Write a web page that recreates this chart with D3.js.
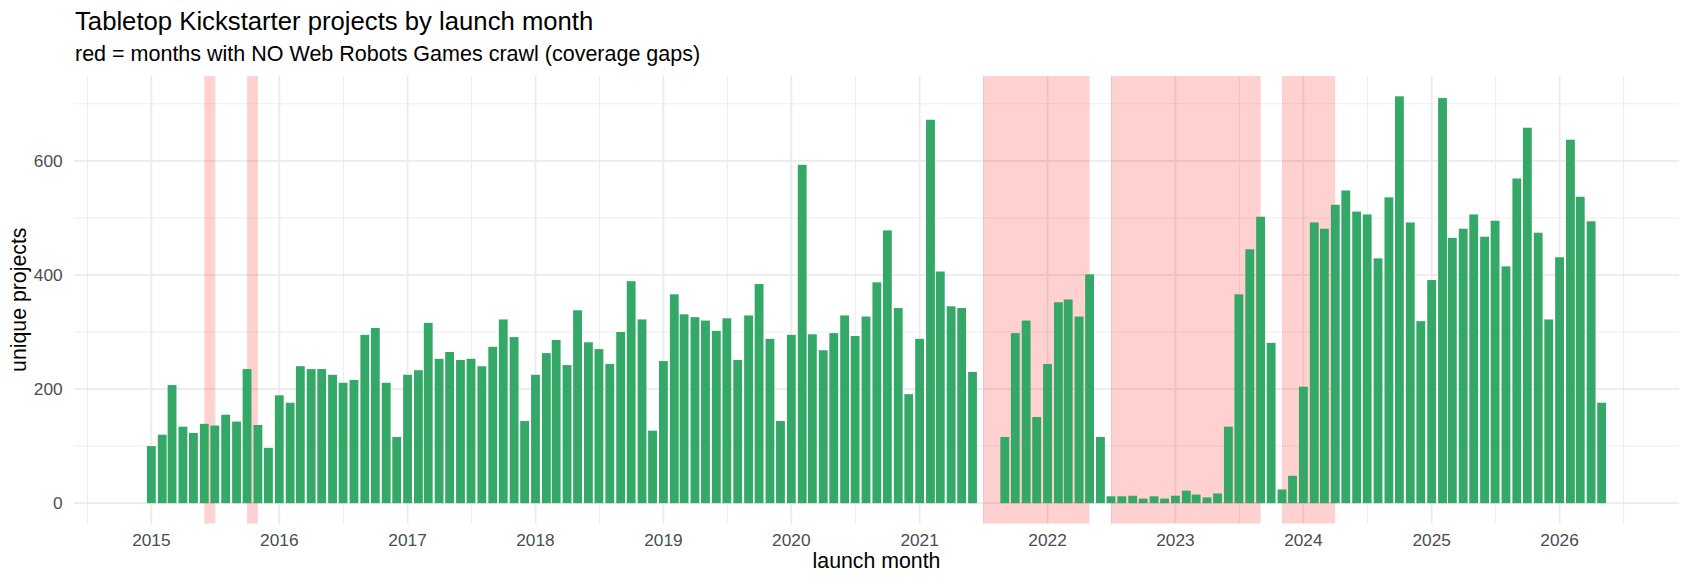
<!DOCTYPE html>
<html>
<head>
<meta charset="utf-8">
<title>Tabletop Kickstarter projects by launch month</title>
<script src="https://d3js.org/d3.v7.min.js"></script>
<style>
body { margin: 0; background: #fff; }
svg { display: block; font-family: 'Liberation Sans', Arial, Helvetica, sans-serif; }
</style>
</head>
<body>
<div id="chart"></div>
<script>
// monthly counts of unique projects, Jan..Dec (null = no projects recorded)
var firstYear = 2015;
var counts2015 = [100, 120, 207, 134, 123, 139, 136, 155, 143, 235, 137, 97];
var counts2016 = [189, 176, 240, 235, 235, 225, 211, 216, 295, 307, 211, 116];
var counts2017 = [225, 233, 316, 253, 265, 251, 253, 240, 274, 322, 291, 144];
var counts2018 = [225, 263, 286, 242, 338, 282, 270, 244, 300, 389, 322, 127];
var counts2019 = [249, 366, 331, 326, 320, 302, 324, 251, 329, 384, 288, 144];
var counts2020 = [295, 593, 296, 268, 298, 329, 293, 327, 387, 478, 342, 191];
var counts2021 = [288, 672, 406, 345, 342, 230, null, null, 116, 298, 320, 151];
var counts2022 = [244, 352, 357, 327, 401, 116, 12, 12, 13, 8, 12, 8];
var counts2023 = [13, 22, 15, 10, 17, 134, 366, 445, 502, 281, 24, 48];
var counts2024 = [204, 492, 481, 523, 548, 511, 506, 429, 536, 713, 492, 319];
var counts2025 = [391, 710, 465, 481, 506, 467, 495, 415, 569, 658, 474, 322];
var counts2026 = [431, 637, 537, 494, 176];

// months with no crawl (first and last month of each gap)
var gapFrom = ["2015-06", "2015-10", "2021-07", "2022-07", "2023-11"];
var gapTo   = ["2015-06", "2015-10", "2022-04", "2023-08", "2024-03"];

var titleText = "Tabletop Kickstarter projects by launch month";
var subtitleText = "red = months with NO Web Robots Games crawl (coverage gaps)";
var xLabel = "launch month";
var yLabel = "unique projects";

var width = 1690, height = 585;
var panelL = 74, panelR = 1679, panelT = 76, panelB = 523.5;

var allYears = [counts2015, counts2016, counts2017, counts2018, counts2019, counts2020,
                counts2021, counts2022, counts2023, counts2024, counts2025, counts2026];
var data = [];
allYears.forEach(function(arr, i) {
  arr.forEach(function(v, m) {
    if (v !== null) data.push({ date: new Date(Date.UTC(firstYear + i, m, 1)), n: v });
  });
});

function parseMonth(s) {
  var p = s.split("-");
  return new Date(Date.UTC(+p[0], +p[1] - 1, 1));
}
var gaps = gapFrom.map(function(s, i) {
  return { x0: parseMonth(s), x1: d3.utcMonth.offset(parseMonth(gapTo[i]), 1) };
});

// bar width like geom_col: 0.9 of the smallest spacing (28 days)
var day = 864e5;
var halfBar = 0.45 * 28 * day;
var lo = +d3.min(data, function(d) { return d.date; }) - halfBar;
var hi = +d3.max(data, function(d) { return d.date; }) + halfBar;
var pad = (hi - lo) * 0.05;
var x = d3.scaleUtc().domain([new Date(lo - pad), new Date(hi + pad)]).range([panelL, panelR]);

var yMax = d3.max(data, function(d) { return d.n; });
var y = d3.scaleLinear().domain([-0.05 * yMax, 1.05 * yMax]).range([panelB, panelT]);

var svg = d3.select("#chart").append("svg")
  .attr("width", width)
  .attr("height", height);

// grid
var yMajor = [0, 200, 400, 600];
var yMinor = [100, 300, 500, 700];
var years = d3.utcYear.range(d3.utcYear.ceil(x.domain()[0]), x.domain()[1]);
var xMinor = [];
years.forEach(function(d) {
  xMinor.push(new Date((+d + +d3.utcYear.offset(d, -1)) / 2));
});
var lastYear = years[years.length - 1];
xMinor.push(new Date((+lastYear + +d3.utcYear.offset(lastYear, 1)) / 2));
xMinor = xMinor.filter(function(d) { return d >= x.domain()[0] && d <= x.domain()[1]; });

var grid = svg.append("g");
grid.selectAll(".ymin").data(yMinor).enter().append("line")
  .attr("x1", panelL).attr("x2", panelR)
  .attr("y1", function(d) { return y(d); }).attr("y2", function(d) { return y(d); })
  .attr("stroke", "#ebebeb").attr("stroke-width", 0.9);
grid.selectAll(".xmin").data(xMinor).enter().append("line")
  .attr("y1", panelT).attr("y2", panelB)
  .attr("x1", function(d) { return x(d); }).attr("x2", function(d) { return x(d); })
  .attr("stroke", "#ebebeb").attr("stroke-width", 0.9);
grid.selectAll(".ymaj").data(yMajor).enter().append("line")
  .attr("x1", panelL).attr("x2", panelR)
  .attr("y1", function(d) { return y(d); }).attr("y2", function(d) { return y(d); })
  .attr("stroke", "#ebebeb").attr("stroke-width", 1.8);
grid.selectAll(".xmaj").data(years).enter().append("line")
  .attr("y1", panelT).attr("y2", panelB)
  .attr("x1", function(d) { return x(d); }).attr("x2", function(d) { return x(d); })
  .attr("stroke", "#ebebeb").attr("stroke-width", 1.8);

// coverage gaps
svg.append("g").selectAll("rect").data(gaps).enter().append("rect")
  .attr("x", function(d) { return x(d.x0); })
  .attr("width", function(d) { return x(d.x1) - x(d.x0); })
  .attr("y", panelT)
  .attr("height", panelB - panelT)
  .attr("fill", "red")
  .attr("fill-opacity", 0.18);

// bars
svg.append("g").selectAll("rect").data(data).enter().append("rect")
  .attr("x", function(d) { return x(new Date(+d.date - halfBar)); })
  .attr("width", function(d) { return x(new Date(+d.date + halfBar)) - x(new Date(+d.date - halfBar)); })
  .attr("y", function(d) { return y(d.n); })
  .attr("height", function(d) { return y(0) - y(d.n); })
  .attr("fill", "#33a867");

// axis labels
svg.append("g").selectAll("text").data(yMajor).enter().append("text")
  .attr("x", 62.7)
  .attr("y", function(d) { return y(d) + 6; })
  .attr("text-anchor", "end")
  .attr("font-size", 17.3)
  .attr("fill", "#4d4d4d")
  .text(function(d) { return d; });

svg.append("g").selectAll("text").data(years).enter().append("text")
  .attr("x", function(d) { return x(d); })
  .attr("y", 546)
  .attr("text-anchor", "middle")
  .attr("font-size", 17.3)
  .attr("fill", "#4d4d4d")
  .text(d3.utcFormat("%Y"));

svg.append("text")
  .attr("x", (panelL + panelR) / 2)
  .attr("y", 568)
  .attr("text-anchor", "middle")
  .attr("font-size", 21.3)
  .attr("fill", "#000")
  .text(xLabel);

svg.append("text")
  .attr("transform", "translate(26," + ((panelT + panelB) / 2) + ") rotate(-90)")
  .attr("text-anchor", "middle")
  .attr("font-size", 21.3)
  .attr("fill", "#000")
  .text(yLabel);

svg.append("text")
  .attr("x", panelL + 1)
  .attr("y", 29.5)
  .attr("font-size", 25.7)
  .attr("fill", "#000")
  .text(titleText);

svg.append("text")
  .attr("x", panelL + 1)
  .attr("y", 60.5)
  .attr("font-size", 21.5)
  .attr("fill", "#000")
  .text(subtitleText);
</script>
</body>
</html>
